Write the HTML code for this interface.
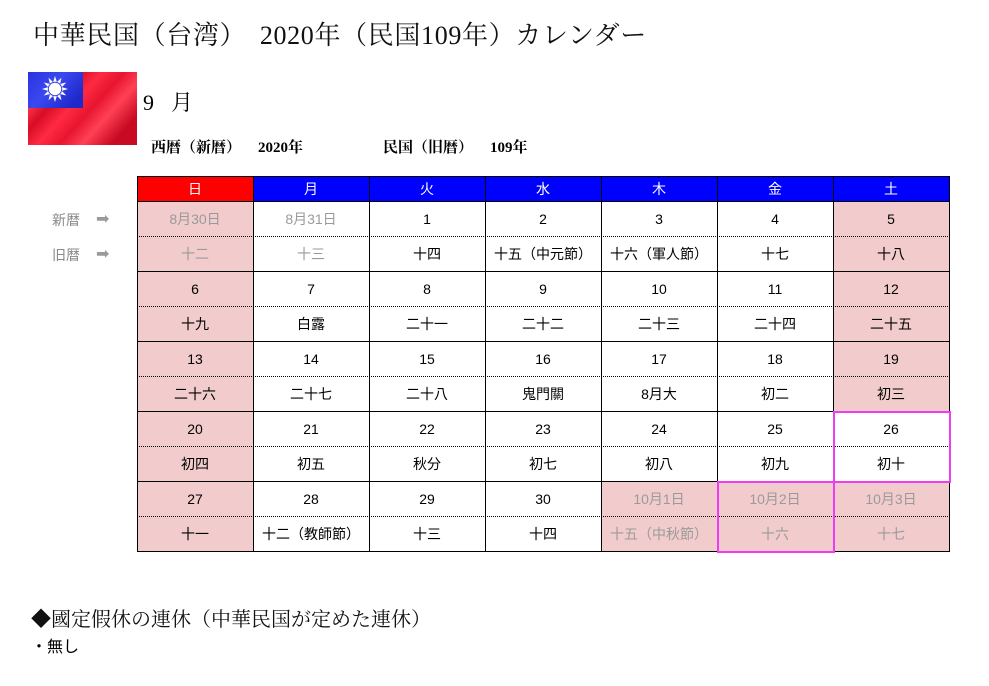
<!DOCTYPE html>
<html><head><meta charset="utf-8">
<style>
body{margin:0;width:989px;height:686px;background:#fff;position:relative;overflow:hidden}
.a{position:absolute;white-space:nowrap}
.serif{font-family:"Liberation Serif","Noto Serif CJK SC",serif}
.c{position:absolute;width:116px;height:35px;line-height:35px;text-align:center;font-size:14px;font-family:"Liberation Sans","Noto Sans CJK JP",sans-serif;color:#000;white-space:nowrap}
.g{color:#9a9a9a}
.hd{position:absolute;top:177px;width:116px;height:25px;line-height:25px;text-align:center;font-size:14px;font-family:"Liberation Sans","Noto Sans CJK JP",sans-serif;color:#fff;background:#0000ff}
.p{position:absolute;width:116px;height:70px;background:#f2cccc}
.h{position:absolute;height:1px;background:#000;left:137px;width:813px}
.d{position:absolute;left:137px;width:813px;height:0;border-top:1px dotted #000}
.v{position:absolute;width:1px;background:#000;top:177px;height:376px}
.c0{left:137px}.c1{left:253px}.c2{left:369px}.c3{left:485px}.c4{left:601px}.c5{left:717px}.c6{left:833px}
.r0{top:202px}.r1{top:237px}.r2{top:272px}.r3{top:307px}.r4{top:342px}.r5{top:377px}.r6{top:412px}.r7{top:447px}.r8{top:482px}.r9{top:517px}
.lbl{position:absolute;left:52px;font-size:14px;font-family:"Liberation Sans","Noto Sans CJK JP",sans-serif;color:#8a8a8a;height:20px;line-height:20px}
.arr{position:absolute;left:96px;font-size:16px;font-family:"DejaVu Sans",sans-serif;color:#9a9a9a;height:20px;line-height:20px}
.b{font-weight:bold;font-size:15px;height:16px;line-height:16px;top:140px}
</style></head><body>

<div class="a serif" style="left:33px;top:22px;font-size:26px;line-height:28px;height:28px;color:#111;letter-spacing:0.65px">中華民国（台湾）　2020年（民国109年）カレンダー</div>

<svg class="a" style="left:28px;top:72px" width="109" height="73" viewBox="0 0 109 73">
<defs>
<linearGradient id="rg" x1="0" y1="0" x2="1" y2="0.6">
<stop offset="0" stop-color="#e0102a"/>
<stop offset="0.2" stop-color="#ff3a50"/>
<stop offset="0.35" stop-color="#d80c25"/>
<stop offset="0.5" stop-color="#ff2a42"/>
<stop offset="0.65" stop-color="#e81530"/>
<stop offset="0.8" stop-color="#ff4055"/>
<stop offset="1" stop-color="#c80a22"/>
</linearGradient>
<linearGradient id="bg" x1="0" y1="0" x2="1" y2="0.6">
<stop offset="0" stop-color="#2a35e0"/>
<stop offset="0.5" stop-color="#3a48f0"/>
<stop offset="1" stop-color="#1f28c8"/>
</linearGradient>
</defs>
<rect width="109" height="73" fill="url(#rg)"/>
<rect width="55" height="36" fill="url(#bg)"/>
<g transform="translate(27,17)" fill="#fff">
<polygon points="0,-13 1.9,-6.7 -1.9,-6.7"/>
<polygon points="0,-13 1.9,-6.7 -1.9,-6.7" transform="rotate(30)"/>
<polygon points="0,-13 1.9,-6.7 -1.9,-6.7" transform="rotate(60)"/>
<polygon points="0,-13 1.9,-6.7 -1.9,-6.7" transform="rotate(90)"/>
<polygon points="0,-13 1.9,-6.7 -1.9,-6.7" transform="rotate(120)"/>
<polygon points="0,-13 1.9,-6.7 -1.9,-6.7" transform="rotate(150)"/>
<polygon points="0,-13 1.9,-6.7 -1.9,-6.7" transform="rotate(180)"/>
<polygon points="0,-13 1.9,-6.7 -1.9,-6.7" transform="rotate(210)"/>
<polygon points="0,-13 1.9,-6.7 -1.9,-6.7" transform="rotate(240)"/>
<polygon points="0,-13 1.9,-6.7 -1.9,-6.7" transform="rotate(270)"/>
<polygon points="0,-13 1.9,-6.7 -1.9,-6.7" transform="rotate(300)"/>
<polygon points="0,-13 1.9,-6.7 -1.9,-6.7" transform="rotate(330)"/>
<circle r="7.2" fill="#3040e0"/>
<circle r="6.2" fill="#fff"/>
</g>
</svg>

<div class="a serif" style="left:143px;top:92px;font-size:22px;line-height:22px;height:22px">9</div>
<div class="a serif" style="left:171px;top:92px;font-size:22px;line-height:22px;height:22px">月</div>

<div class="a serif b" style="left:151px">西暦（新暦）</div>
<div class="a serif b" style="left:258px">2020年</div>
<div class="a serif b" style="left:383px">民国（旧暦）</div>
<div class="a serif b" style="left:490px">109年</div>

<!-- left labels -->
<div class="lbl" style="top:210px">新暦</div><div class="arr" style="top:209px">➡</div>
<div class="lbl" style="top:245px">旧暦</div><div class="arr" style="top:244px">➡</div>

<!-- header -->
<div class="hd c0" style="background:#ff0000">日</div>
<div class="hd c1">月</div>
<div class="hd c2">火</div>
<div class="hd c3">水</div>
<div class="hd c4">木</div>
<div class="hd c5">金</div>
<div class="hd c6">土</div>

<!-- pink fills -->
<div class="p c0 r0"></div><div class="p c6 r0"></div>
<div class="p c0 r2"></div><div class="p c6 r2"></div>
<div class="p c0 r4"></div><div class="p c6 r4"></div>
<div class="p c0 r6"></div>
<div class="p c0 r8"></div><div class="p c4 r8"></div><div class="p c5 r8"></div><div class="p c6 r8"></div>

<!-- row pair 0 -->
<div class="c c0 r0 g">8月30日</div><div class="c c1 r0 g">8月31日</div><div class="c c2 r0">1</div><div class="c c3 r0">2</div><div class="c c4 r0">3</div><div class="c c5 r0">4</div><div class="c c6 r0">5</div>
<div class="c c0 r1 g">十二</div><div class="c c1 r1 g">十三</div><div class="c c2 r1">十四</div><div class="c c3 r1">十五（中元節）</div><div class="c c4 r1">十六（軍人節）</div><div class="c c5 r1">十七</div><div class="c c6 r1">十八</div>
<!-- row pair 1 -->
<div class="c c0 r2">6</div><div class="c c1 r2">7</div><div class="c c2 r2">8</div><div class="c c3 r2">9</div><div class="c c4 r2">10</div><div class="c c5 r2">11</div><div class="c c6 r2">12</div>
<div class="c c0 r3">十九</div><div class="c c1 r3">白露</div><div class="c c2 r3">二十一</div><div class="c c3 r3">二十二</div><div class="c c4 r3">二十三</div><div class="c c5 r3">二十四</div><div class="c c6 r3">二十五</div>
<!-- row pair 2 -->
<div class="c c0 r4">13</div><div class="c c1 r4">14</div><div class="c c2 r4">15</div><div class="c c3 r4">16</div><div class="c c4 r4">17</div><div class="c c5 r4">18</div><div class="c c6 r4">19</div>
<div class="c c0 r5">二十六</div><div class="c c1 r5">二十七</div><div class="c c2 r5">二十八</div><div class="c c3 r5">鬼門關</div><div class="c c4 r5">8月大</div><div class="c c5 r5">初二</div><div class="c c6 r5">初三</div>
<!-- row pair 3 -->
<div class="c c0 r6">20</div><div class="c c1 r6">21</div><div class="c c2 r6">22</div><div class="c c3 r6">23</div><div class="c c4 r6">24</div><div class="c c5 r6">25</div><div class="c c6 r6">26</div>
<div class="c c0 r7">初四</div><div class="c c1 r7">初五</div><div class="c c2 r7">秋分</div><div class="c c3 r7">初七</div><div class="c c4 r7">初八</div><div class="c c5 r7">初九</div><div class="c c6 r7">初十</div>
<!-- row pair 4 -->
<div class="c c0 r8">27</div><div class="c c1 r8">28</div><div class="c c2 r8">29</div><div class="c c3 r8">30</div><div class="c c4 r8 g">10月1日</div><div class="c c5 r8 g">10月2日</div><div class="c c6 r8 g">10月3日</div>
<div class="c c0 r9">十一</div><div class="c c1 r9">十二（教師節）</div><div class="c c2 r9">十三</div><div class="c c3 r9">十四</div><div class="c c4 r9 g">十五（中秋節）</div><div class="c c5 r9 g">十六</div><div class="c c6 r9 g">十七</div>

<!-- grid lines -->
<div class="h" style="top:176px"></div>
<div class="h" style="top:201px"></div>
<div class="d" style="top:236px"></div>
<div class="h" style="top:271px"></div>
<div class="d" style="top:306px"></div>
<div class="h" style="top:341px"></div>
<div class="d" style="top:376px"></div>
<div class="h" style="top:411px"></div>
<div class="d" style="top:446px"></div>
<div class="h" style="top:481px"></div>
<div class="d" style="top:516px"></div>
<div class="h" style="top:551px"></div>
<div class="v" style="left:137px;top:176px"></div>
<div class="v" style="left:253px;top:176px"></div>
<div class="v" style="left:369px;top:176px"></div>
<div class="v" style="left:485px;top:176px"></div>
<div class="v" style="left:601px;top:176px"></div>
<div class="v" style="left:717px;top:176px"></div>
<div class="v" style="left:833px;top:176px"></div>
<div class="v" style="left:949px;top:176px"></div>

<!-- magenta highlight boxes -->
<div class="a" style="left:833px;top:411px;width:114px;height:68px;border:2px solid #f03cf0"></div>
<div class="a" style="left:717px;top:481px;width:114px;height:68px;border:2px solid #f03cf0"></div>

<!-- bottom section -->
<div class="a serif" style="left:31px;top:609px;font-size:20px;line-height:22px;height:22px;color:#111">◆國定假休の連休（中華民国が定めた連休）</div>
<div class="a" style="left:31px;top:638px;font-size:16px;line-height:20px;height:20px;font-family:'Liberation Sans','Noto Sans CJK JP',sans-serif">・無し</div>

</body></html>
